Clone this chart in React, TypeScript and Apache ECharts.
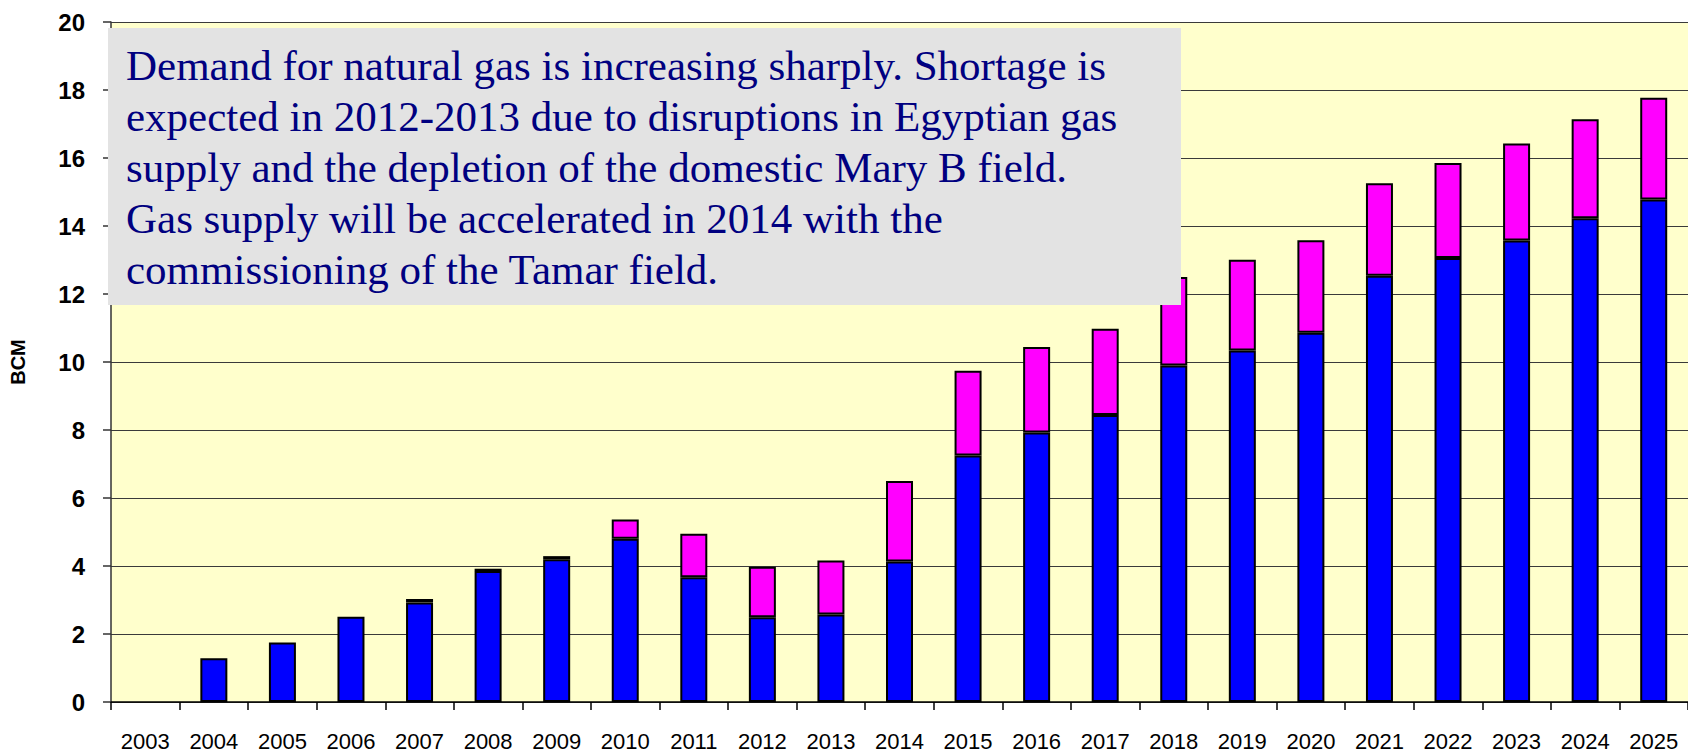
import React, { useEffect, useRef } from "react";
import * as echarts from "echarts";

const years = [
  "2003", "2004", "2005", "2006", "2007", "2008", "2009", "2010", "2011", "2012", "2013", "2014",
  "2015", "2016", "2017", "2018", "2019", "2020", "2021", "2022", "2023", "2024", "2025",
];

// lower (blue) segment, BCM
const blueValues = [
  null, 1.29, 1.75, 2.51, 2.93, 3.85, 4.2, 4.8, 3.67, 2.49, 2.57, 4.13,
  7.25, 7.93, 8.44, 9.9, 10.34, 10.86, 12.54, 13.06, 13.57, 14.23, 14.78,
];

// upper (magenta) segment, BCM
const magentaValues = [
  null, null, null, null, 0.1, 0.07, 0.09, 0.57, 1.28, 1.49, 1.59, 2.37,
  2.49, 2.51, 2.54, 2.6, 2.67, 2.72, 2.72, 2.79, 2.86, 2.91, 2.99,
];

const yTicks = { min: 0, max: 20, interval: 2 };

const noteLines = [
  "Demand for natural gas is increasing sharply. Shortage is",
  "expected in 2012-2013 due to disruptions in Egyptian gas",
  "supply and the depletion of the domestic Mary B field.",
  "Gas supply will be accelerated in 2014 with the",
  "commissioning of the Tamar field.",
];

export default function App() {
  const ref = useRef<HTMLDivElement>(null);

  useEffect(() => {
    if (!ref.current) return;
    const chart = echarts.init(ref.current, undefined, { renderer: "svg" });

    const barStyle = (color: string) => ({
      color,
      borderColor: "#000000",
      borderWidth: 2,
    });

    const option = {
      animation: false,
      backgroundColor: "#ffffff",
      grid: {
        left: 108,
        top: 22,
        bottom: 47,
        right: -8,
        show: true,
        backgroundColor: "#FFFFCC",
        borderWidth: 0,
        containLabel: false,
      },
      xAxis: {
        type: "category",
        data: years,
        boundaryGap: true,
        axisLine: { show: true, lineStyle: { color: "#000000", width: 1.5 } },
        axisTick: { show: true, length: 8, inside: false, lineStyle: { color: "#000000", width: 1.5 } },
        axisLabel: {
          interval: 0,
          margin: 28,
          color: "#000000",
          fontFamily: "Liberation Sans, Arial, sans-serif",
          fontSize: 22,
        },
        splitLine: { show: false },
      },
      yAxis: {
        type: "value",
        min: yTicks.min,
        max: yTicks.max,
        interval: yTicks.interval,
        name: "BCM",
        nameLocation: "middle",
        nameGap: 83,
        nameRotate: 90,
        nameTextStyle: {
          color: "#000000",
          fontFamily: "Liberation Sans, Arial, sans-serif",
          fontWeight: "bold",
          fontSize: 20,
        },
        axisLine: { show: true, lineStyle: { color: "#333333", width: 1.5 } },
        axisTick: { show: true, length: 8, inside: false, lineStyle: { color: "#333333", width: 1.5 } },
        axisLabel: {
          margin: 26,
          color: "#000000",
          fontFamily: "Liberation Sans, Arial, sans-serif",
          fontWeight: "bold",
          fontSize: 24,
        },
        splitLine: { show: true, lineStyle: { color: "#3a3a3a", width: 1.2 } },
      },
      series: [
        {
          name: "Blue",
          type: "bar",
          stack: "total",
          data: blueValues,
          barWidth: 27,
          itemStyle: barStyle("#0000FF"),
          z: 2,
        },
        {
          name: "Magenta",
          type: "bar",
          stack: "total",
          data: magentaValues,
          barWidth: 27,
          itemStyle: barStyle("#FF00FF"),
          z: 2,
        },
      ],
      graphic: [
        {
          type: "rect",
          shape: { x: 108, y: 28, width: 1073, height: 277 },
          style: { fill: "#E3E3E3" },
          z: 100,
        },
        ...noteLines.map((line, i) => ({
          type: "text",
          x: 126,
          y: 65 + i * 51.1,
          z: 101,
          style: {
            text: line,
            fill: "#000080",
            font: "43px 'Liberation Serif', 'Times New Roman', serif",
            verticalAlign: "middle",
            align: "left",
          },
        })),
      ],
    };

    chart.setOption(option as any);
    return () => chart.dispose();
  }, []);

  return (
    <div
      ref={ref}
      style={{ position: "absolute", left: 0, top: 0, width: 1688, height: 752 }}
    />
  );
}
